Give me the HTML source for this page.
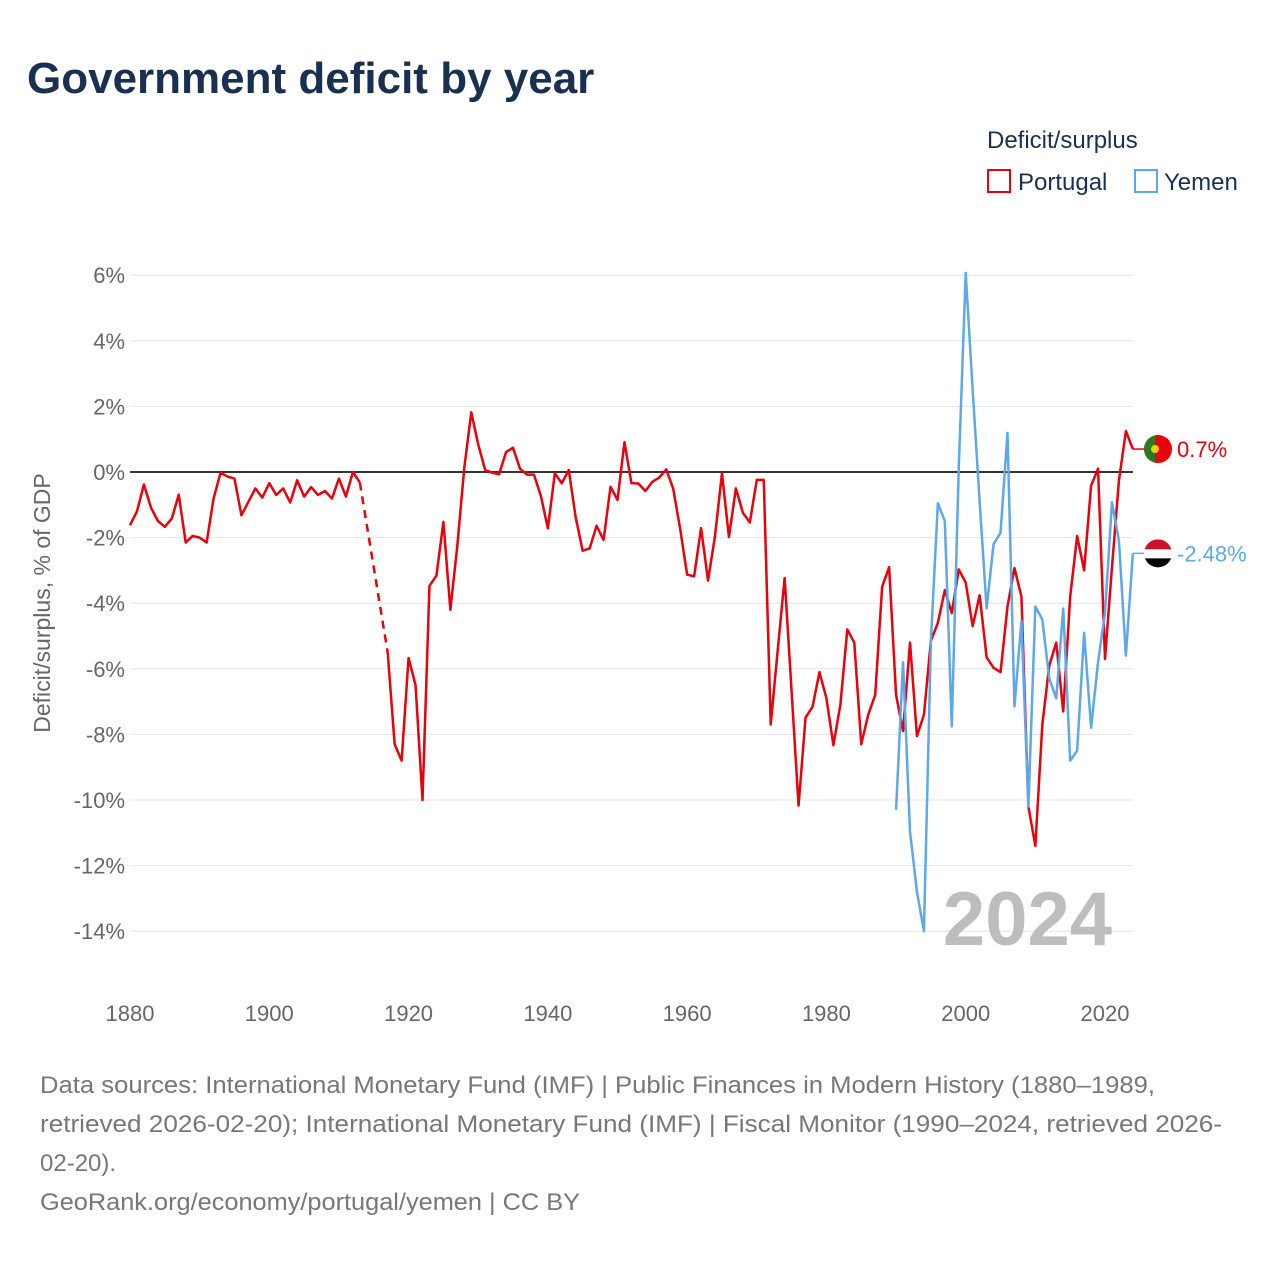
<!DOCTYPE html>
<html><head><meta charset="utf-8"><style>
body{margin:0;background:#fff;font-family:"Liberation Sans",sans-serif}
</style></head><body>
<svg id="chart" width="1280" height="1280" xmlns="http://www.w3.org/2000/svg" style="display:block">
<text x="27" y="93" font-size="44" font-weight="bold" fill="#1a3050">Government deficit by year</text>
<text x="987" y="148" font-size="24" fill="#1a3050">Deficit/surplus</text>
<g><rect x="988" y="170" width="22" height="22" fill="none" stroke="#e8000b" stroke-width="2"/><text x="1018" y="190" font-size="24" fill="#1a3050">Portugal</text></g>
<g><rect x="1135" y="170" width="22" height="22" fill="none" stroke="#5ea8ea" stroke-width="2"/><text x="1164" y="190" font-size="24" fill="#1a3050">Yemen</text></g>
<g id="grid"></g><g id="yticks"></g><g id="xticks"></g>
<text x="1112" y="945" font-size="76" font-weight="bold" fill="#bdbdbd" text-anchor="end">2024</text>
<g id="series"></g>
<text transform="translate(50,603) rotate(-90)" font-size="23" fill="#666" text-anchor="middle">Deficit/surplus, % of GDP</text>
<g font-size="24" fill="#777">
<text x="40" y="1093" textLength="1115" lengthAdjust="spacingAndGlyphs">Data sources: International Monetary Fund (IMF) | Public Finances in Modern History (1880–1989,</text>
<text x="40" y="1132" textLength="1182" lengthAdjust="spacingAndGlyphs">retrieved 2026-02-20); International Monetary Fund (IMF) | Fiscal Monitor (1990–2024, retrieved 2026-</text>
<text x="40" y="1171">02-20).</text>
<text x="40" y="1210" textLength="540" lengthAdjust="spacingAndGlyphs">GeoRank.org/economy/portugal/yemen | CC BY</text>
</g>
</svg>
<script>
const yTicks=[6,4,2,0,-2,-4,-6,-8,-10,-12,-14];
const xTicks=[1880,1900,1920,1940,1960,1980,2000,2020];
const portugalStart=1880;
const portugal=[-1.62,-1.2,-0.38,-1.08,-1.49,-1.67,-1.42,-0.69,-2.15,-1.95,
-2.0,-2.15,-0.81,-0.02,-0.14,-0.2,-1.32,-0.91,-0.5,-0.78,
-0.34,-0.7,-0.5,-0.93,-0.25,-0.75,-0.46,-0.7,-0.58,-0.81,
-0.2,-0.75,0,-0.32,null,null,null,-5.5,-8.3,-8.8,
-5.67,-6.5,-10.0,-3.47,-3.16,-1.52,-4.2,-2.25,0.13,1.82,
0.84,0.06,-0.02,-0.07,0.61,0.74,0.1,-0.08,-0.08,-0.73,
-1.72,-0.04,-0.34,0.06,-1.39,-2.4,-2.33,-1.64,-2.07,-0.45,
-0.85,0.91,-0.34,-0.35,-0.58,-0.3,-0.17,0.08,-0.51,-1.74,
-3.13,-3.18,-1.71,-3.31,-1.95,-0.04,-1.98,-0.5,-1.24,-1.54,
-0.24,-0.24,-7.7,-5.44,-3.23,-6.7,-10.17,-7.49,-7.16,-6.1,
-6.9,-8.33,-7.1,-4.8,-5.2,-8.3,-7.4,-6.8,-3.5,-2.9,
-6.8,-7.9,-5.2,-8.05,-7.4,-5.15,-4.6,-3.6,-4.3,-2.97,
-3.37,-4.7,-3.76,-5.65,-5.97,-6.1,-4.1,-2.93,-3.8,-10.2,
-11.4,-7.7,-5.9,-5.2,-7.3,-3.8,-1.95,-3.0,-0.42,0.1,
-5.7,-2.9,-0.26,1.25,0.7];
const yemenStart=1990;
const yemen=[-10.3,-5.8,-10.96,-12.8,-14,-5.15,-0.95,-1.5,-7.76,0.13,
6.07,2.5,-0.9,-4.16,-2.2,-1.85,1.19,-7.15,-4.55,-10.2,
-4.1,-4.5,-6.3,-6.9,-4.16,-8.8,-8.5,-4.9,-7.8,-5.8,
-4.3,-0.92,-2.1,-5.6,-2.48];
const NS='http://www.w3.org/2000/svg';
const X=y=>130+(y-1880)*975/140;
const Y=v=>472-v*32.8;
function mk(tag,attrs,parent){const e=document.createElementNS(NS,tag);for(const k in attrs)e.setAttribute(k,attrs[k]);parent.appendChild(e);return e;}
const grid=document.getElementById('grid'),yt=document.getElementById('yticks'),xt=document.getElementById('xticks'),ser=document.getElementById('series');
yTicks.forEach(v=>{
 const l=mk('line',{x1:130,x2:1133,y1:Y(v),y2:Y(v),stroke:v===0?'#333':'#e6e6e6','stroke-width':v===0?2:1},grid);
 
 
 const t=mk('text',{x:125,y:Y(v)+8,'font-size':22,fill:'#666','text-anchor':'end'},yt);
 t.textContent=v+'%';
 
 
});
xTicks.forEach(yr=>{
 const t=mk('text',{x:X(yr),y:1021,'font-size':22,fill:'#666','text-anchor':'middle'},xt);
 t.textContent=yr;
 
 
});
function draw(vals,start,color,name){
 let seg=[],last=null;const segs=[],gaps=[];
 vals.forEach((v,i)=>{const yr=start+i;
  if(v===null){if(seg.length){segs.push(seg);seg=[];}return;}
  if(!seg.length&&last&&last.yr!==yr-1)gaps.push([last,{yr,v}]);
  seg.push([X(yr),Y(v)]);last={yr,v};});
 if(seg.length)segs.push(seg);
 segs.forEach(s=>{const p=mk('polyline',{points:s.map(q=>q.join(',')).join(' '),fill:'none',stroke:color,'stroke-width':2.5,'stroke-linejoin':'round'},ser);
  
  });
 gaps.forEach(g=>{const p=mk('line',{x1:X(g[0].yr),y1:Y(g[0].v),x2:X(g[1].yr),y2:Y(g[1].v),stroke:color,'stroke-width':2.5,'stroke-dasharray':'8,6'},ser);
  
  });
 const lv=vals[vals.length-1],ly=Y(lv),lx=X(start+vals.length-1);
 const e=mk('line',{x1:lx,y1:ly,x2:1145,y2:ly,stroke:color,'stroke-width':1.5},ser);
 
 
 return ly;
}
const py=draw(portugal,portugalStart,'#e8000b','portugal');
const yy=draw(yemen,yemenStart,'#5ea8ea','yemen');
const fp=mk('g',{},ser);


const c1=mk('clipPath',{id:'cp'},fp);mk('circle',{cx:1158,cy:py,r:14},c1);
mk('rect',{x:1144,y:py-14,width:28,height:28,fill:'#e8000b','clip-path':'url(#cp)'},fp);
mk('rect',{x:1144,y:py-14,width:11,height:28,fill:'#2a7a2a','clip-path':'url(#cp)'},fp);
mk('circle',{cx:1155,cy:py,r:4,fill:'#f5d000'},fp);
const fy=mk('g',{},ser);


const c2=mk('clipPath',{id:'cy'},fy);mk('circle',{cx:1158,cy:yy,r:14},c2);
mk('rect',{x:1144,y:yy-14,width:28,height:10,fill:'#ce1126','clip-path':'url(#cy)'},fy);
mk('rect',{x:1144,y:yy-4,width:28,height:9,fill:'#fff','clip-path':'url(#cy)'},fy);
mk('rect',{x:1144,y:yy+5,width:28,height:10,fill:'#000','clip-path':'url(#cy)'},fy);
const lp=mk('text',{x:1177,y:py+8,'font-size':22,fill:'#e8000b'},ser);
lp.textContent=portugal[portugal.length-1]+'%';


const ly2=mk('text',{x:1177,y:yy+8,'font-size':22,fill:'#5ea8ea'},ser);
ly2.textContent=yemen[yemen.length-1]+'%';


</script>
</body></html>
